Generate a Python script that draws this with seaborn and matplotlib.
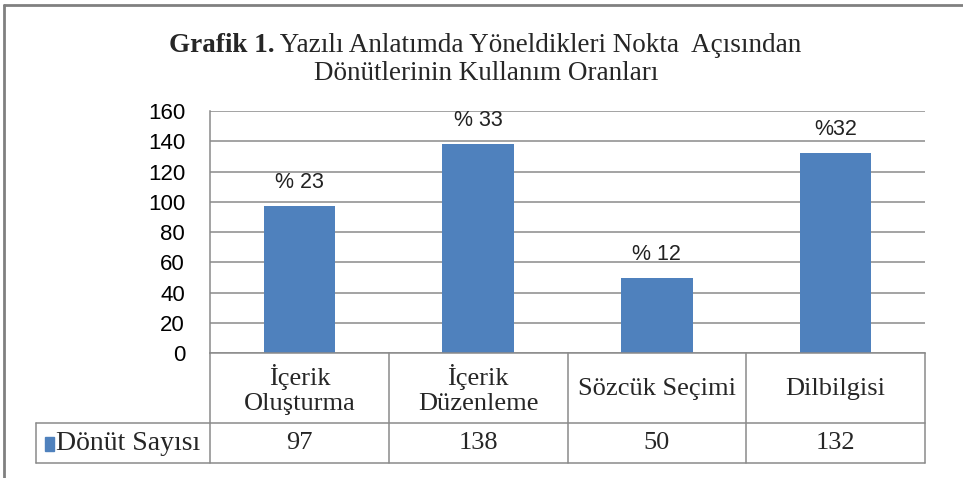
import matplotlib
matplotlib.use("Agg")
import matplotlib.pyplot as plt
import matplotlib.transforms as mtransforms
from matplotlib.lines import Line2D
from matplotlib.patches import Rectangle
import seaborn as sns

# Chart data
categories = ["İçerik\nOluşturma", "İçerik\nDüzenleme", "Sözcük Seçimi", "Dilbilgisi"]
counts = [97, 138, 50, 132]
pct_labels = ["% 23", "% 33", "% 12", "%32"]
series_name = "Dönüt Sayısı"
y_ticks = [0, 20, 40, 60, 80, 100, 120, 140, 160]

BAR = "#4F81BD"
GRID = "#8A8A8A"
SERIF = ["Liberation Serif", "DejaVu Serif"]

W, H = 963, 478

sns.set_theme(style="white")
plt.rcParams["font.family"] = ["Liberation Sans", "DejaVu Sans"]


def fx(px):
    return px / W


def fy(py):
    return 1 - py / H


fig = plt.figure(figsize=(W / 100, H / 100), dpi=100)
fig.patch.set_facecolor("white")

# plot area in pixel terms
left, right, top, bottom = 210, 925, 111, 353.3
ax = fig.add_axes([fx(left), fy(bottom), fx(right - left), (bottom - top) / H])

sns.barplot(x=list(range(len(counts))), y=counts, color=BAR, saturation=1,
            width=0.4, ax=ax, linewidth=0)
ax.set_xlim(-0.5, len(counts) - 0.5)
ax.set_ylim(0, 160)
ax.set_yticks(y_ticks)
ax.set_xticks([])
ax.yaxis.grid(True, color=GRID, linewidth=1.1)
ax.set_axisbelow(True)
ax.tick_params(axis="y", length=0, pad=18, labelsize=16, colors="black")
for s in ["top", "right"]:
    ax.spines[s].set_visible(False)
for s in ["left", "bottom"]:
    ax.spines[s].set_color(GRID)
    ax.spines[s].set_linewidth(1.1)
ax.set_xlabel("")
ax.set_ylabel("")

# percentage labels above bars
for i, (v, lab) in enumerate(zip(counts, pct_labels)):
    ax.annotate(lab, xy=(i, v), xytext=(0, 13), textcoords="offset points",
                ha="center", va="baseline", fontsize=15.5, color="#222222")

# data table under the chart
trans = mtransforms.blended_transform_factory(ax.transData, fig.transFigure)
row_top, row_mid, row_bot, leg_left = 353.3, 423, 463, 36


def hline(x0, x1, y):
    fig.add_artist(Line2D([fx(x0), fx(x1)], [fy(y), fy(y)], color=GRID,
                          linewidth=1.1, transform=fig.transFigure))


def vline(x, y0, y1):
    fig.add_artist(Line2D([fx(x), fx(x)], [fy(y0), fy(y1)], color=GRID,
                          linewidth=1.1, transform=fig.transFigure))


hline(leg_left, right, row_mid)
hline(leg_left, right, row_bot)
vline(leg_left, row_mid, row_bot)
n = len(categories)
for k in range(n + 1):
    vline(left + (right - left) * k / n, row_top, row_bot)

for i, (cat, v) in enumerate(zip(categories, counts)):
    ax.text(i, fy(389.5), cat, transform=trans, ha="center", va="center",
            family=SERIF, fontsize=19, linespacing=1.2)
    ax.text(i, fy(443), str(v), transform=trans, ha="center", va="center",
            family=SERIF, fontsize=19)

# legend key in the table
fig.add_artist(Rectangle((fx(45), fy(451)), fx(9), 14 / H, color=BAR,
                         transform=fig.transFigure))
fig.text(fx(56), fy(443), series_name, ha="left", va="center",
         family=SERIF, fontsize=20)

# title: bold prefix + regular text, centred
fig.canvas.draw()
r = fig.canvas.get_renderer()
t1 = fig.text(0, fy(51.5), "Grafik 1.", family=SERIF, weight="bold",
              fontsize=19.5, ha="left", va="baseline")
t2 = fig.text(0, fy(51.5), " Yazılı Anlatımda Yöneldikleri Nokta  Açısından",
              family=SERIF, fontsize=19.5, ha="left", va="baseline")
w1 = t1.get_window_extent(r).width
w2 = t2.get_window_extent(r).width
x0 = 485 - (w1 + w2) / 2
t1.set_x(fx(x0))
t2.set_x(fx(x0 + w1))
fig.text(fx(486), fy(80.5), "Dönütlerinin Kullanım Oranları", family=SERIF,
         fontsize=19.5, ha="center", va="baseline")

# outer chart frame (top and left edges visible)
fig.add_artist(Line2D([fx(4), 1], [fy(4.5), fy(4.5)], color="#808080",
                      linewidth=2, transform=fig.transFigure))
fig.add_artist(Line2D([fx(4), fx(4)], [fy(4.5), 0], color="#808080",
                      linewidth=2, transform=fig.transFigure))

fig.savefig("out.png", dpi=100)
